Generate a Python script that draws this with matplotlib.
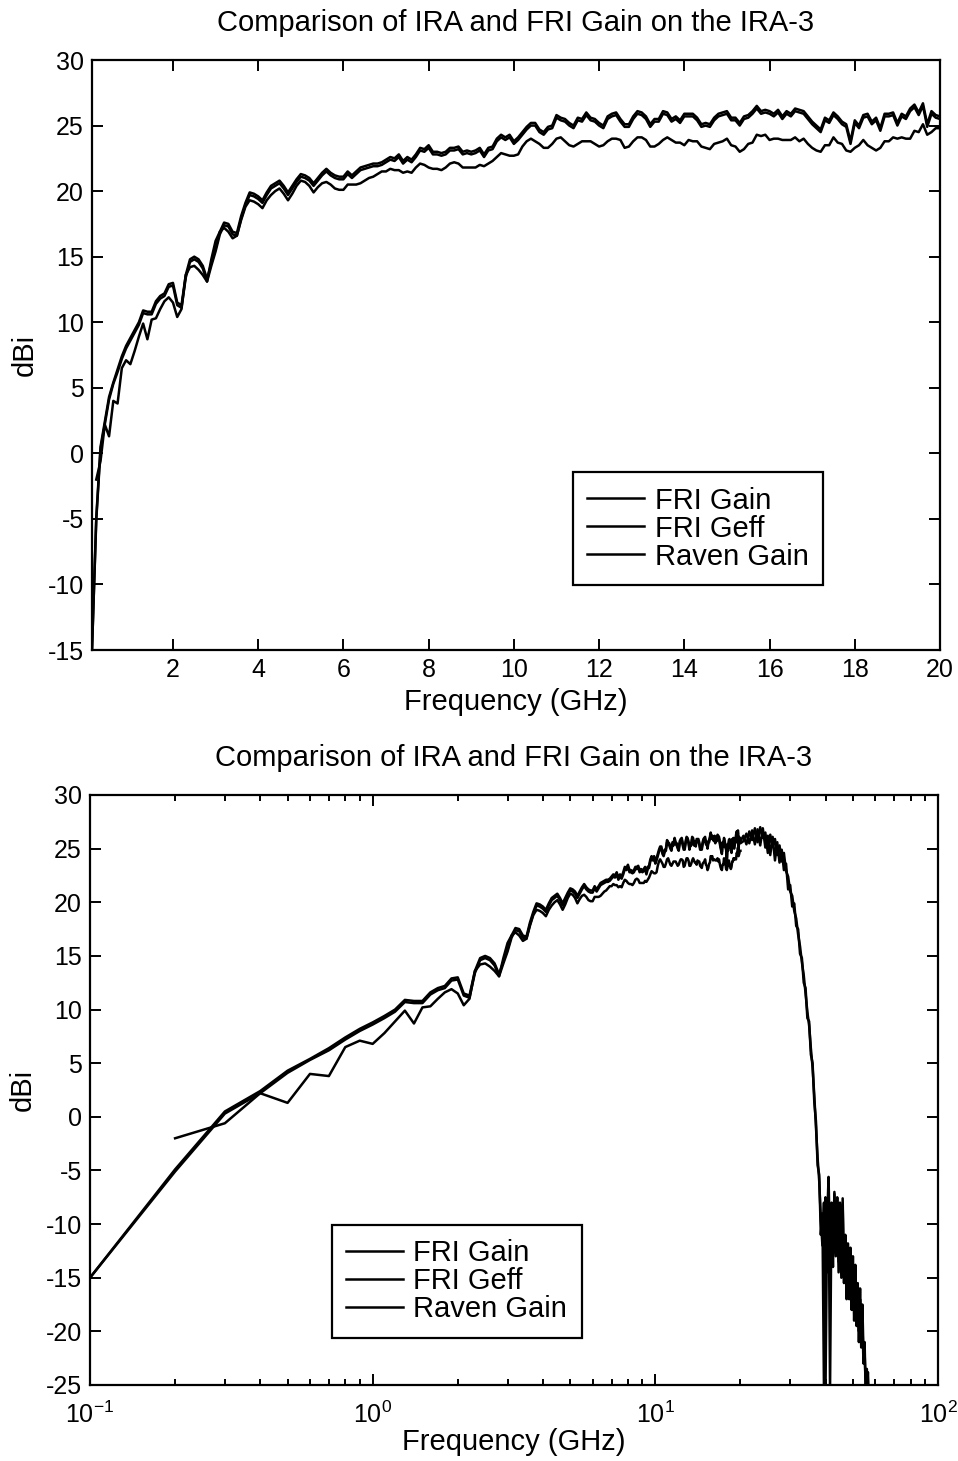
import numpy as np
import matplotlib
matplotlib.use("Agg")
import matplotlib.pyplot as plt

plt.rcParams['font.family'] = ['Liberation Sans', 'DejaVu Sans']
plt.rcParams['axes.unicode_minus'] = False
plt.rcParams['mathtext.fontset'] = 'custom'
plt.rcParams['mathtext.rm'] = 'Liberation Sans'

# frequency grids (GHz): 0.1 GHz steps to 20 GHz, then 0.5 GHz steps
fri_freq = np.concatenate([np.arange(1, 201) / 10, np.arange(41, 115) / 2])
raven_freq = np.arange(2, 201) / 10

fri_gain = [
    -15.0, -4.9, 0.5, 2.4, 4.3, 5.4, 6.4, 7.4, 8.2, 8.8,
    9.4, 10.0, 10.9, 10.8, 10.8, 11.6, 12.0, 12.2, 12.9, 13.0,
    11.5, 11.3, 13.6, 14.8, 15.0, 14.8, 14.3, 13.3, 14.5, 15.6,
    16.9, 17.6, 17.5, 16.9, 16.8, 18.1, 19.1, 19.9, 19.8, 19.6,
    19.3, 19.9, 20.4, 20.6, 20.8, 20.4, 19.9, 20.4, 20.9, 21.3,
    21.2, 21.0, 20.6, 21.0, 21.4, 21.7, 21.4, 21.2, 21.1, 21.1,
    21.5, 21.2, 21.5, 21.8, 21.9, 22.0, 22.1, 22.1, 22.2, 22.4,
    22.6, 22.5, 22.8, 22.3, 22.6, 22.4, 22.8, 23.3, 23.2, 23.5,
    23.0, 23.0, 22.9, 23.0, 23.3, 23.3, 23.4, 23.0, 23.1, 23.0,
    23.1, 23.3, 22.8, 23.3, 23.4, 24.0, 24.3, 24.1, 24.3, 23.8,
    24.1, 24.5, 24.9, 25.2, 25.2, 24.7, 24.5, 24.9, 25.0, 25.8,
    25.6, 25.5, 25.2, 25.0, 25.6, 25.5, 26.0, 25.6, 25.5, 25.2,
    25.0, 25.7, 25.9, 26.0, 25.5, 25.1, 25.1, 25.7, 26.1, 26.0,
    25.7, 25.1, 25.5, 25.5, 26.1, 26.0, 25.5, 25.7, 25.4, 25.9,
    25.9, 25.9, 25.6, 25.1, 25.2, 25.1, 25.6, 25.9, 26.0, 26.1,
    25.6, 25.6, 25.2, 25.7, 25.8, 26.1, 26.5, 26.1, 26.2, 26.1,
    25.9, 26.2, 25.7, 26.1, 25.9, 26.3, 26.2, 26.1, 25.7, 25.3,
    25.0, 24.7, 25.6, 25.4, 26.0, 25.7, 25.3, 25.1, 23.8, 25.4,
    25.0, 25.8, 25.9, 25.3, 25.6, 24.8, 25.9, 25.9, 26.0, 25.2,
    25.9, 25.7, 26.3, 26.6, 26.0, 26.7, 25.1, 26.1, 25.8, 25.7,
    # 20.5 - 57 GHz
    26.2, 25.4, 26.6, 25.8, 26.9, 25.6, 27.0, 26.0, 26.5, 24.6,
    26.3, 25.2, 25.9, 24.4, 25.3, 23.8, 24.6, 22.9, 22.4, 21.0,
    20.6, 19.2, 18.5, 17.0, 15.9, 14.4, 13.2, 11.5, 9.8, 8.5,
    6.4, 4.6, 2.0, -1.0, -3.8, -6.0, -9.5, -12.0, -8.0, -25.5,
    -10.0, -5.6, -12.5, -9.0, -14.0, -7.0, -13.0, -7.5, -14.5, -8.0,
    -15.0, -7.6, -15.5, -11.0, -17.0, -11.8, -16.5, -12.2, -17.5, -13.0,
    -18.0, -13.8, -19.0, -15.5, -20.0, -16.0, -20.5, -17.5, -22.0, -21.0,
    -26.0, -23.5, -26.5, -27.0,
]

fri_geff = [
    -15.0, -5.1, 0.3, 2.2, 4.1, 5.3, 6.2, 7.2, 8.0, 8.6,
    9.2, 9.8, 10.7, 10.6, 10.6, 11.4, 11.8, 12.0, 12.7, 12.8,
    11.3, 11.1, 13.4, 14.6, 14.8, 14.6, 14.1, 13.1, 14.3, 15.4,
    16.7, 17.4, 17.3, 16.7, 16.6, 17.9, 18.9, 19.7, 19.6, 19.4,
    19.1, 19.7, 20.2, 20.4, 20.6, 20.2, 19.7, 20.2, 20.7, 21.1,
    21.0, 20.8, 20.4, 20.8, 21.2, 21.5, 21.2, 21.0, 20.9, 20.9,
    21.3, 21.0, 21.3, 21.6, 21.7, 21.8, 21.9, 21.9, 22.0, 22.2,
    22.4, 22.3, 22.6, 22.1, 22.4, 22.2, 22.6, 23.1, 23.0, 23.3,
    22.8, 22.8, 22.7, 22.8, 23.1, 23.1, 23.2, 22.8, 22.9, 22.8,
    22.9, 23.1, 22.6, 23.1, 23.2, 23.8, 24.1, 23.9, 24.1, 23.6,
    23.9, 24.3, 24.7, 25.0, 25.0, 24.5, 24.3, 24.7, 24.8, 25.6,
    25.4, 25.3, 25.0, 24.8, 25.4, 25.3, 25.8, 25.4, 25.3, 25.0,
    24.8, 25.5, 25.7, 25.8, 25.3, 24.9, 24.9, 25.5, 25.9, 25.8,
    25.5, 24.9, 25.3, 25.3, 25.9, 25.8, 25.3, 25.5, 25.2, 25.7,
    25.7, 25.7, 25.4, 24.9, 25.0, 24.9, 25.4, 25.7, 25.8, 25.9,
    25.4, 25.4, 25.0, 25.5, 25.6, 25.9, 26.3, 25.9, 26.0, 25.9,
    25.7, 26.0, 25.5, 25.9, 25.7, 26.1, 26.0, 25.9, 25.5, 25.1,
    24.8, 24.5, 25.4, 25.2, 25.8, 25.5, 25.1, 24.9, 23.6, 25.2,
    24.8, 25.6, 25.7, 25.1, 25.4, 24.6, 25.7, 25.7, 25.8, 25.0,
    25.7, 25.5, 26.1, 26.4, 25.8, 26.5, 24.9, 25.9, 25.6, 25.5,
    # 20.5 - 57 GHz
    25.7, 26.4, 25.5, 26.7, 25.4, 26.8, 25.3, 26.9, 25.1, 26.2,
    24.4, 26.1, 23.9, 25.6, 23.7, 24.9, 23.0, 23.6, 21.2, 21.6,
    19.6, 19.9, 17.8, 17.5, 15.2, 14.8, 12.5, 12.0, 9.2, 8.9,
    5.8, 5.0, 1.4, -0.4, -4.5, -5.4, -11.0, -9.0, -25.5, -7.5,
    -14.5, -6.2, -25.5, -8.0, -12.0, -7.2, -12.5, -8.0, -13.5, -9.0,
    -14.0, -8.2, -14.8, -11.5, -16.5, -12.5, -17.0, -13.0, -18.0, -13.8,
    -19.0, -14.5, -19.5, -16.5, -21.0, -17.0, -21.5, -19.0, -23.0, -22.0,
    -25.0, -26.0, -23.8, -26.5,
]

raven_gain = [
    -2.0, -0.6, 2.2, 1.3, 4.0, 3.8, 6.5, 7.1, 6.8,
    7.8, 8.9, 9.9, 8.7, 10.2, 10.3, 11.0, 11.6, 11.9, 11.5,
    10.4, 11.0, 13.6, 14.2, 14.3, 14.0, 13.6, 13.1, 14.8, 16.2,
    16.9, 17.2, 16.9, 16.4, 16.6, 17.8, 18.8, 19.3, 19.2, 19.0,
    18.7, 19.3, 19.7, 20.0, 20.2, 19.8, 19.3, 19.8, 20.4, 20.8,
    20.7, 20.4, 19.9, 20.3, 20.6, 20.7, 20.5, 20.2, 20.1, 20.1,
    20.5, 20.5, 20.5, 20.6, 20.8, 21.0, 21.1, 21.3, 21.5, 21.5,
    21.7, 21.6, 21.6, 21.4, 21.5, 21.4, 21.8, 22.1, 22.0, 21.8,
    21.7, 21.7, 21.6, 21.8, 22.1, 22.2, 22.1, 21.8, 21.8, 21.8,
    21.8, 22.0, 21.9, 22.1, 22.3, 22.6, 22.9, 22.8, 22.7, 22.7,
    22.8, 23.4, 23.8, 24.0, 23.8, 23.6, 23.3, 23.3, 23.6, 24.0,
    24.1, 23.8, 23.5, 23.4, 23.6, 23.8, 23.8, 23.8, 23.6, 23.4,
    23.5, 23.8, 24.0, 24.0, 23.9, 23.3, 23.4, 23.8, 24.1, 24.1,
    23.9, 23.4, 23.4, 23.6, 23.9, 24.1, 23.9, 23.7, 23.7, 23.5,
    23.9, 23.8, 23.8, 23.4, 23.3, 23.2, 23.6, 23.7, 23.8, 24.0,
    23.5, 23.4, 23.0, 23.2, 23.6, 23.7, 24.3, 24.2, 24.3, 23.9,
    24.0, 24.0, 23.9, 23.9, 23.9, 24.1, 23.8, 24.0, 23.6, 23.3,
    23.1, 23.0, 23.5, 23.5, 24.1, 23.7, 23.6, 23.1, 23.0, 23.3,
    23.5, 23.9, 23.5, 23.3, 23.1, 23.3, 23.8, 23.8, 24.1, 24.0,
    24.1, 24.0, 24.0, 24.6, 24.5, 25.1, 24.3, 24.5, 24.8, 24.8,
]

labels = ['FRI Gain', 'FRI Geff', 'Raven Gain']
title = 'Comparison of IRA and FRI Gain on the IRA-3'

fig = plt.figure(figsize=(9.58, 14.61), dpi=100)
ax1 = fig.add_axes([92 / 958, 1 - 650 / 1461, 848 / 958, 590 / 1461])
ax2 = fig.add_axes([90 / 958, 1 - 1385 / 1461, 848 / 958, 590 / 1461])

fs = 21
for ax in (ax1, ax2):
    ax.plot(fri_freq, fri_gain, color='k', lw=1.8, label=labels[0])
    ax.plot(fri_freq, fri_geff, color='k', lw=1.8, label=labels[1])
    ax.plot(raven_freq, raven_gain, color='k', lw=1.8, label=labels[2])
    ax.set_title(title, fontsize=fs, pad=21)
    ax.set_ylabel('dBi', fontsize=fs, labelpad=6)
    for s in ax.spines.values():
        s.set_linewidth(1.6)
    ax.tick_params(which='both', direction='in', top=True, right=True,
                   labelsize=18, width=1.4)
    ax.tick_params(which='major', length=8, pad=6)
    ax.tick_params(which='minor', length=4)

ax1.set_xlabel('Frequency (GHz)', fontsize=fs, labelpad=4)
ax1.set_xlim(0.1, 20)
ax1.set_ylim(-15, 30)
ax1.set_xticks(np.arange(2, 21, 2))
ax1.set_yticks(np.arange(-15, 31, 5))

ax2.set_xlabel('Frequency (GHz)', fontsize=fs, labelpad=0)
ax2.set_xscale('log')
ax2.set_xlim(0.1, 100)
ax2.set_ylim(-25, 30)
ax2.set_yticks(np.arange(-25, 31, 5))
ax2.tick_params(axis='x', which='major', pad=12)

leg_kw = dict(fontsize=fs, frameon=True, fancybox=False, edgecolor='k',
              framealpha=1, borderaxespad=0, labelspacing=0.0,
              handlelength=1.95, handletextpad=0.35, borderpad=0.5)
leg1 = ax1.legend(loc='lower right', bbox_to_anchor=(0.862, 0.110), **leg_kw)
leg1.get_frame().set_linewidth(1.6)
leg2 = ax2.legend(loc='lower left', bbox_to_anchor=(0.285, 0.080), **leg_kw)
leg2.get_frame().set_linewidth(1.6)

fig.savefig('out.png', dpi=100)
